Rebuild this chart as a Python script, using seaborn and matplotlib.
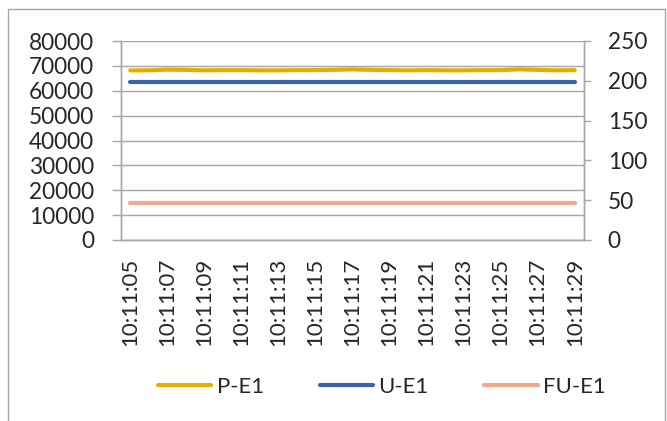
import matplotlib
matplotlib.use("Agg")
import matplotlib.pyplot as plt
import seaborn as sns
import pandas as pd
from matplotlib.patches import Rectangle
from matplotlib.ticker import FixedLocator

# time stamps, one per second
times = [f"10:11:{s:02d}" for s in range(5, 30)]

# left axis series
p_e1 = [68200, 68200, 68500, 68400, 68200, 68300, 68300, 68200, 68200, 68300,
        68300, 68400, 68600, 68400, 68300, 68200, 68300, 68200, 68200, 68300,
        68300, 68600, 68400, 68200, 68300]
# right axis series
u_e1 = [198.5] * 25
fu_e1 = [46.5] * 25

left_ticks = [0, 10000, 20000, 30000, 40000, 50000, 60000, 70000, 80000]
right_ticks = [0, 50, 100, 150, 200, 250]

GOLD = "#E5AD00"
BLUE = "#3A62AD"
SALMON = "#F1A98C"
GRID = "#A6A6A6"

sns.set_style("white")
plt.rcParams["font.family"] = ["Lato", "DejaVu Sans"]

df = pd.DataFrame({"time": times, "P-E1": p_e1, "U-E1": u_e1, "FU-E1": fu_e1})

fig = plt.figure(figsize=(6.67, 4.21), dpi=100)
ax = fig.add_axes([121 / 667, 1 - 240 / 421, (584 - 121) / 667, (240 - 41) / 421])
ax2 = ax.twinx()

sns.lineplot(data=df, x="time", y="P-E1", ax=ax, color=GOLD, lw=3.0,
             label="P-E1", legend=False)
sns.lineplot(data=df, x="time", y="U-E1", ax=ax2, color=BLUE, lw=3.0,
             label="U-E1", legend=False)
sns.lineplot(data=df, x="time", y="FU-E1", ax=ax2, color=SALMON, lw=3.0,
             label="FU-E1", legend=False)

n = len(times)
ax.set_xlim(-0.5, n - 0.5)
ax.set_ylim(0, 80000)
ax2.set_ylim(0, 250)
ax.set_yticks(left_ticks)
ax2.set_yticks(right_ticks)

ax.set_xticks(range(0, n, 2))
ax.set_xticklabels(times[::2], rotation=90)
ax.xaxis.set_minor_locator(FixedLocator([i - 0.5 for i in range(n + 1)]))
ax.tick_params(axis="x", which="major", length=0, pad=13, labelsize=16)
ax.tick_params(axis="x", which="minor", length=6, width=1, color=GRID, direction="out")
ax.tick_params(axis="y", length=6.5, width=1, color=GRID, direction="out", labelsize=16.3, pad=13)
ax2.tick_params(axis="y", length=5, width=1, color=GRID, direction="out", labelsize=16.3, pad=12)

ax.set_xlabel("")
ax.set_ylabel("")
ax2.set_ylabel("")
ax.grid(axis="y", color=GRID, lw=1)
ax2.grid(False)
ax.set_axisbelow(True)

for a in (ax, ax2):
    a.spines["top"].set_visible(False)
    for s in ("left", "right", "bottom"):
        a.spines[s].set_color(GRID)
        a.spines[s].set_linewidth(1)

h1, l1 = ax.get_legend_handles_labels()
h2, l2 = ax2.get_legend_handles_labels()
fig.legend(h1 + h2, l1 + l2, loc="center", bbox_to_anchor=(382 / 667, 1 - 387 / 421),
           ncol=3, frameon=False, fontsize=16, handlelength=2.4, handletextpad=0.25,
           columnspacing=2.5)

fig.patches.append(Rectangle((8 / 667, -0.1), (665 - 8) / 667, 1.1 - 9 / 421,
                             transform=fig.transFigure, fill=False,
                             edgecolor="#A6A6A6", lw=1))

fig.savefig("out.png", dpi=100)
